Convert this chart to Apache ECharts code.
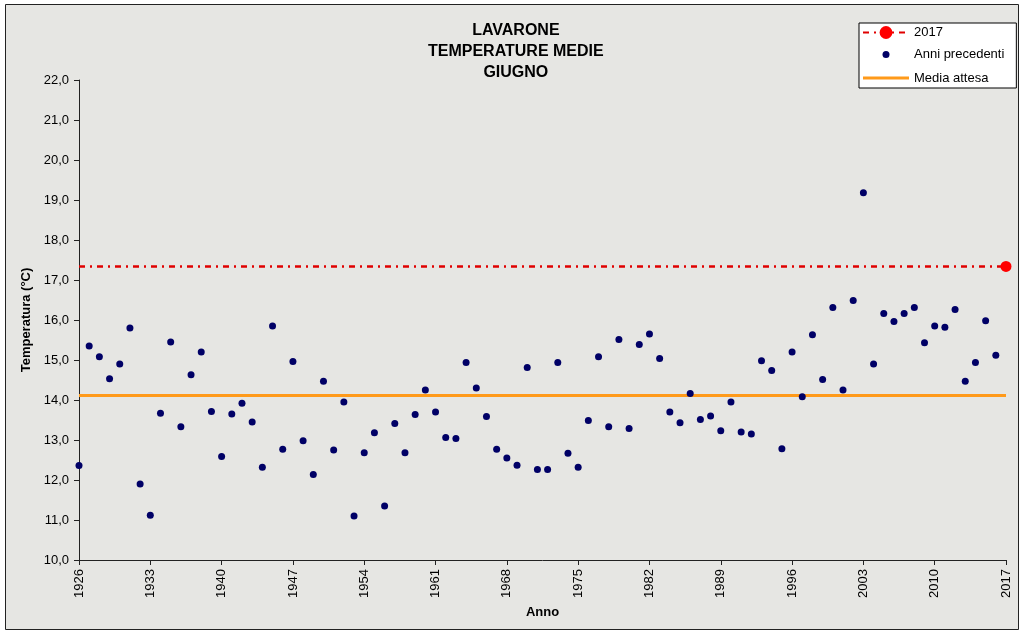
<!DOCTYPE html>
<html>
<head>
<meta charset="utf-8">
<script src="https://cdn.jsdelivr.net/npm/echarts@6/dist/echarts.min.js"></script>
<style>
html,body{margin:0;padding:0;background:#ffffff;}
#chart{width:1024px;height:635px;}
</style>
</head>
<body>
<div id="chart"></div>
<script>
// ---- data ----
const years = [];
for (let y = 1926; y <= 2017; y++) years.push(String(y));

const anniPrecedenti = [
  12.36, 15.35, 15.08, 14.53, 14.90, 15.80, 11.90, 11.12, 13.67, 15.45,
  13.33, 14.63, 15.20, 13.71, 12.59, 13.65, 13.92, 13.45, 12.32, 15.85,
  12.77, 14.96, 12.98, 12.14, 14.47, 12.75, 13.95, 11.10, 12.68, 13.18,
  11.35, 13.41, 12.68, 13.64, 14.25, 13.70, 13.06, 13.04, 14.94, 14.30,
  13.59, 12.77, 12.55, 12.37, 14.81, 12.26, 12.26, 14.94, 12.67, 12.32,
  13.49, 15.08, 13.33, 15.51, 13.29, 15.39, 15.65, 15.04, 13.70, 13.43,
  14.16, 13.51, 13.60, 13.23, 13.95, 13.20, 13.15, 14.98, 14.74, 12.78,
  15.20, 14.08, 15.63, 14.51, 16.31, 14.25, 16.49, 19.18, 14.90, 16.16,
  15.96, 16.16, 16.31, 15.43, 15.85, 15.82, 16.26, 14.47, 14.94, 15.98,
  15.12
];
const value2017 = 17.34;
const mediaAttesa = 14.11;

const titleLines = ['LAVARONE', 'TEMPERATURE MEDIE', 'GIUGNO'];
const font = '"Liberation Sans", Arial, sans-serif';

const chart = echarts.init(document.getElementById('chart'), null, {renderer: 'canvas'});

const option = {
  animation: false,
  backgroundColor: '#ffffff',
  textStyle: {fontFamily: font},
  graphic: [
    {
      type: 'rect', z: -10, silent: true,
      shape: {x: 5.5, y: 4.5, width: 1013, height: 625},
      style: {fill: '#e6e6e3', stroke: '#222', lineWidth: 1}
    },
    {
      type: 'text', z: 10, top: 20,
      style: {
        text: titleLines.join('\n'), x: 0, y: 0,
        font: 'bold 16px ' + font, fill: '#000', textAlign: 'center', lineHeight: 21
      },
      left: 513 - 85
    }
  ],
  grid: {left: 79, right: 18, top: 80, bottom: 75, containLabel: false},
  legend: {
    orient: 'vertical',
    left: 859, top: 23,
    width: 158,
    backgroundColor: '#ffffff',
    borderColor: '#000', borderWidth: 1,
    padding: [3, 12, 2, 3],
    itemWidth: 46, itemHeight: 16, itemGap: 7.5,
    textStyle: {fontSize: 13, color: '#000', fontFamily: font},
    data: [
      {name: '2017'},
      {name: 'Anni precedenti', icon: 'path://M0,0M46,16M19.5,8a3.5,3.5,0,1,0,7,0a3.5,3.5,0,1,0,-7,0z'},
      {name: 'Media attesa', icon: 'path://M0,0M46,16M0,6.5h46v3h-46z'}
    ]
  },
  xAxis: {
    type: 'category',
    data: years,
    boundaryGap: false,
    name: 'Anno',
    nameLocation: 'middle',
    nameGap: 41,
    nameTextStyle: {fontWeight: 'bold', fontSize: 13, color: '#000', verticalAlign: 'top'},
    axisLine: {lineStyle: {color: '#222', width: 1}},
    axisTick: {interval: 6, length: 5, lineStyle: {color: '#222'}},
    axisLabel: {interval: 6, rotate: 90, fontSize: 13, color: '#000', margin: 9},
    splitLine: {show: false}
  },
  yAxis: {
    type: 'value',
    min: 10, max: 22, interval: 1,
    name: 'Temperatura (°C)',
    nameLocation: 'middle',
    nameGap: 41,
    nameTextStyle: {fontWeight: 'bold', fontSize: 13, color: '#000'},
    axisLine: {show: true, lineStyle: {color: '#222', width: 1}},
    axisTick: {show: true, length: 5, lineStyle: {color: '#222'}},
    axisLabel: {fontSize: 13, color: '#000', margin: 10,
      formatter: v => v.toFixed(1).replace('.', ',')},
    splitLine: {show: false}
  },
  series: [
    {
      name: '2017',
      type: 'line',
      data: [
        {value: [years[0], value2017], symbol: 'none'},
        {value: [years[years.length - 1], value2017]}
      ],
      symbol: 'circle',
      symbolSize: 11,
      itemStyle: {color: '#ff0000', opacity: 1},
      lineStyle: {color: '#e00000', width: 2.5, type: [6, 5, 2, 5]},
      z: 3
    },
    {
      name: 'Anni precedenti',
      type: 'scatter',
      data: anniPrecedenti,
      symbol: 'circle',
      symbolSize: 7,
      itemStyle: {color: '#000066', opacity: 1},
      z: 4
    },
    {
      name: 'Media attesa',
      type: 'line',
      data: [[years[0], mediaAttesa], [years[years.length - 1], mediaAttesa]],
      symbol: 'none',
      lineStyle: {color: '#ff9a1a', width: 3, type: 'solid'},
      itemStyle: {color: '#ff9a1a'},
      z: 2
    }
  ]
};
chart.setOption(option);
</script>
</body>
</html>
